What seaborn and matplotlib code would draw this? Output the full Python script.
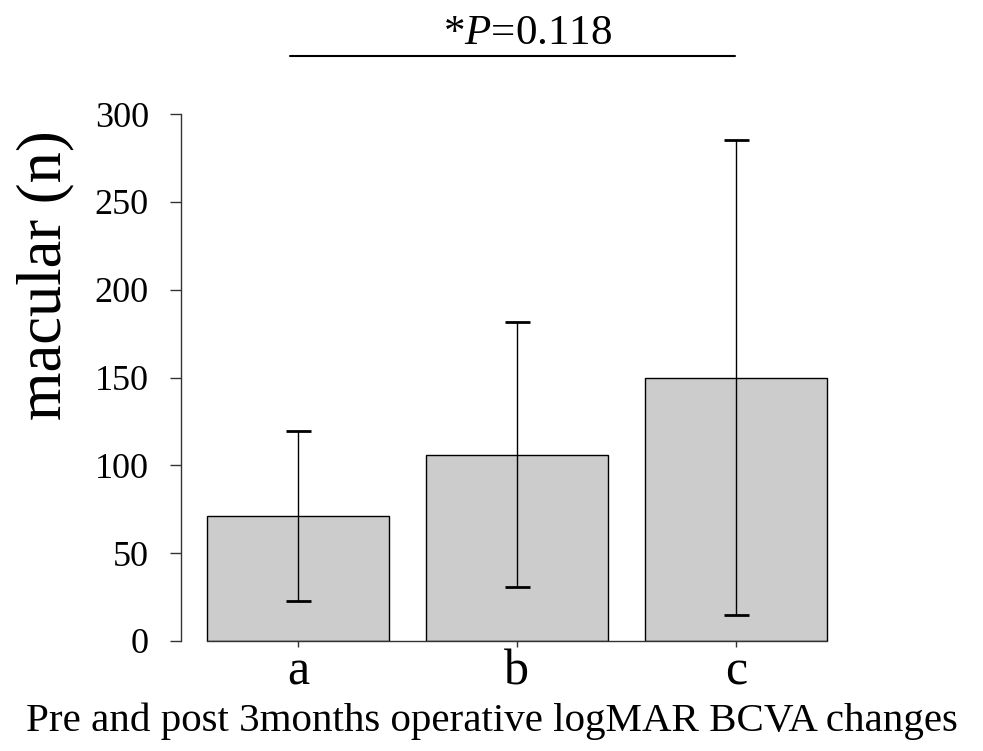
import matplotlib
matplotlib.use("Agg")
import matplotlib.pyplot as plt
import seaborn as sns
import pandas as pd

# Données
groupes = ["a", "b", "c"]
moyennes = [71, 106, 150]
ecarts = [48.5, 75.5, 135]
y_ticks = [0, 50, 100, 150, 200, 250, 300]
p_valeur = "*$\\mathit{P}$=0.118"

sns.set_theme(style="ticks")
plt.rcParams["font.family"] = ["Liberation Serif", "DejaVu Serif"]
plt.rcParams["mathtext.fontset"] = "custom"
plt.rcParams["mathtext.rm"] = "Liberation Serif"
plt.rcParams["mathtext.it"] = "Liberation Serif:italic"
plt.rcParams["text.color"] = "black"
plt.rcParams["axes.labelcolor"] = "black"

df = pd.DataFrame({"groupe": groupes, "moyenne": moyennes})

fig = plt.figure(figsize=(9.83, 7.51), dpi=100)
ax = fig.add_axes([0.184, 0.1465, 0.676, 0.7015])

sns.barplot(data=df, x="groupe", y="moyenne", color="#cccccc", saturation=1,
            edgecolor="black", linewidth=1, width=0.83, errorbar=None, ax=ax)
ax.errorbar(range(len(groupes)), moyennes, yerr=ecarts, fmt="none",
            ecolor="black", elinewidth=1, capsize=9, capthick=2)

ax.set_xlim(-0.534, 2.5)
ax.set_ylim(0, 300)
ax.set_yticks(y_ticks)
ax.tick_params(axis="y", labelsize=26, length=8, width=1, color="#333333",
               labelcolor="black", pad=15)
ax.tick_params(axis="x", labelsize=36, length=4, width=1, color="#333333",
               labelcolor="black", pad=2)
sns.despine(ax=ax)
ax.spines["left"].set_bounds(0, 300)
ax.spines["bottom"].set_bounds(-0.415, 2.415)
for s in ["left", "bottom"]:
    ax.spines[s].set_color("#333333")
    ax.spines[s].set_linewidth(1)

ax.set_xlabel("Pre and post 3months operative logMAR BCVA changes", fontsize=29.5)
ax.xaxis.set_label_coords(0.468, -0.117)
ax.set_ylabel("macular (n)", fontsize=45)
ax.yaxis.set_label_coords(-0.16, 0.695)

fig.text(0.537, 0.955, p_valeur, fontsize=31, ha="center", va="center")
fig.add_artist(plt.Line2D([0.295, 0.748], [0.925, 0.925], color="black", lw=1.5))

fig.savefig("out.png", dpi=100, facecolor="white")
